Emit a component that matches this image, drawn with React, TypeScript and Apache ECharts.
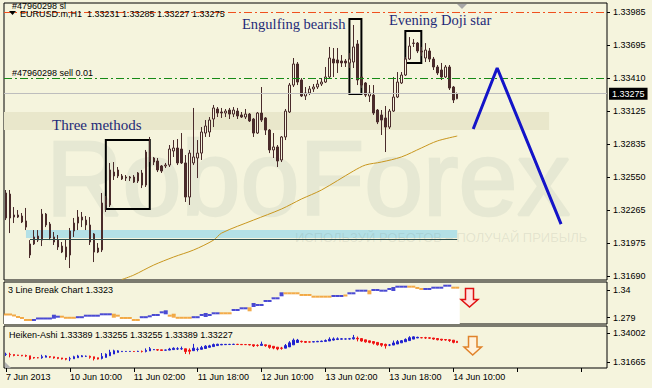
import React, { useEffect, useRef } from "react";
import * as echarts from "echarts";

// ---------- data ----------
const timeLabels = ["7 Jun 2013", "10 Jun 10:00", "11 Jun 02:00", "11 Jun 18:00", "12 Jun 10:00", "13 Jun 02:00", "13 Jun 18:00", "14 Jun 10:00"];
const LABEL_EVERY = 16;
const SLOTS = 151;

const open = [
  1.32195, 1.32403, 1.32203, 1.32203, 1.32212, 1.32169, 1.31873, 1.31969, 1.32038, 1.32003,
  1.32229, 1.32142, 1.32030, 1.32003, 1.31951, 1.31943, 1.31873, 1.32082, 1.32151, 1.32203,
  1.32177, 1.32134, 1.32056, 1.31899, 1.31917, 1.32308, 1.32308, 1.32594, 1.32612, 1.32560,
  1.32551, 1.32551, 1.32551, 1.32516, 1.32586, 1.32481, 1.32768, 1.32716, 1.32690, 1.32647,
  1.32647, 1.32655, 1.32777, 1.32803, 1.32794, 1.32673, 1.32377, 1.32673, 1.32716, 1.32759,
  1.32933, 1.32942, 1.33055, 1.33142, 1.33116, 1.33107, 1.33133, 1.33098, 1.33124, 1.33090,
  1.33072, 1.33098, 1.33055, 1.32933, 1.33107, 1.33064, 1.32959, 1.32786, 1.32812, 1.32699,
  1.32899, 1.33116, 1.33350, 1.33533, 1.33394, 1.33255, 1.33281, 1.33316, 1.33333, 1.33359,
  1.33376, 1.33420, 1.33576, 1.33568, 1.33559, 1.33559, 1.33542, 1.33550, 1.33707, 1.33420,
  1.33368, 1.33255, 1.33263, 1.33133, 1.33090, 1.33064, 1.32985, 1.33124, 1.33246, 1.33368,
  1.33437, 1.33576, 1.33715, 1.33715, 1.33646, 1.33585, 1.33646, 1.33576, 1.33507, 1.33481,
  1.33420, 1.33507, 1.33333, 1.33231,
];
const close = [
  1.32412, 1.32195, 1.32221, 1.32221, 1.32160, 1.32116, 1.31969, 1.32030, 1.32003, 1.32229,
  1.32134, 1.32021, 1.31986, 1.31943, 1.31899, 1.31856, 1.32082, 1.32151, 1.32203, 1.32177,
  1.32134, 1.31986, 1.31899, 1.31934, 1.32325, 1.32351, 1.32612, 1.32560, 1.32560, 1.32534,
  1.32542, 1.32542, 1.32507, 1.32586, 1.32481, 1.32768, 1.32699, 1.32681, 1.32612, 1.32603,
  1.32655, 1.32794, 1.32803, 1.32673, 1.32673, 1.32377, 1.32759, 1.32725, 1.32759, 1.32942,
  1.32994, 1.33046, 1.33151, 1.33107, 1.33107, 1.33124, 1.33098, 1.33133, 1.33081, 1.33072,
  1.33098, 1.33038, 1.32933, 1.33107, 1.33046, 1.32959, 1.32786, 1.32812, 1.32690, 1.32899,
  1.33124, 1.33350, 1.33533, 1.33376, 1.33255, 1.33281, 1.33316, 1.33333, 1.33359, 1.33376,
  1.33420, 1.33585, 1.33542, 1.33542, 1.33542, 1.33542, 1.33576, 1.33681, 1.33394, 1.33350,
  1.33263, 1.33281, 1.33107, 1.33029, 1.33046, 1.32985, 1.33124, 1.33246, 1.33376, 1.33437,
  1.33576, 1.33689, 1.33712, 1.33646, 1.33637, 1.33654, 1.33576, 1.33507, 1.33455, 1.33420,
  1.33507, 1.33324, 1.33220, 1.33275,
];
const low = [
  1.32177, 1.32064, 1.32151, 1.32195, 1.32151, 1.32090, 1.31847, 1.31960, 1.31986, 1.31951,
  1.32116, 1.32003, 1.31960, 1.31917, 1.31890, 1.31830, 1.31760, 1.32030, 1.32090, 1.32116,
  1.32090, 1.31960, 1.31812, 1.31890, 1.31899, 1.32247, 1.32290, 1.32525, 1.32542, 1.32525,
  1.32516, 1.32516, 1.32499, 1.32499, 1.32455, 1.32464, 1.32681, 1.32655, 1.32594, 1.32586,
  1.32629, 1.32638, 1.32725, 1.32655, 1.32664, 1.32334, 1.32308, 1.32655, 1.32542, 1.32699,
  1.32899, 1.32899, 1.32985, 1.33072, 1.33064, 1.33072, 1.33055, 1.33072, 1.33055, 1.33064,
  1.33055, 1.33029, 1.32899, 1.32925, 1.33029, 1.32916, 1.32759, 1.32716, 1.32638, 1.32681,
  1.32872, 1.33107, 1.33333, 1.33350, 1.33246, 1.33220, 1.33263, 1.33290, 1.33316, 1.33342,
  1.33368, 1.33411, 1.33420, 1.33455, 1.33507, 1.33507, 1.33498, 1.33498, 1.33350, 1.33324,
  1.33246, 1.33203, 1.33090, 1.33011, 1.32916, 1.32768, 1.32968, 1.33116, 1.33237, 1.33359,
  1.33429, 1.33568, 1.33681, 1.33628, 1.33602, 1.33550, 1.33550, 1.33481, 1.33437, 1.33394,
  1.33411, 1.33307, 1.33194, 1.33227,
];
const high = [
  1.32438, 1.32438, 1.32290, 1.32264, 1.32238, 1.32282, 1.32003, 1.32090, 1.32090, 1.32273,
  1.32238, 1.32160, 1.32073, 1.32047, 1.31986, 1.32012, 1.32108, 1.32195, 1.32264, 1.32247,
  1.32212, 1.32203, 1.32064, 1.31977, 1.32412, 1.32386, 1.32673, 1.32681, 1.32638, 1.32577,
  1.32568, 1.32560, 1.32568, 1.32594, 1.32612, 1.32786, 1.32899, 1.32725, 1.32716, 1.32655,
  1.32673, 1.32829, 1.32872, 1.32881, 1.32933, 1.32742, 1.32786, 1.33151, 1.32872, 1.32985,
  1.33046, 1.33072, 1.33177, 1.33159, 1.33151, 1.33142, 1.33151, 1.33159, 1.33151, 1.33116,
  1.33142, 1.33107, 1.33064, 1.33116, 1.33333, 1.33072, 1.32968, 1.32933, 1.32829, 1.32907,
  1.33142, 1.33368, 1.33585, 1.33550, 1.33411, 1.33333, 1.33342, 1.33359, 1.33394, 1.33411,
  1.33507, 1.33681, 1.33672, 1.33672, 1.33611, 1.33576, 1.33628, 1.33872, 1.33741, 1.33420,
  1.33376, 1.33350, 1.33350, 1.33142, 1.33133, 1.33168, 1.33142, 1.33420, 1.33463, 1.33463,
  1.33594, 1.33767, 1.33750, 1.33724, 1.33681, 1.33715, 1.33672, 1.33594, 1.33524, 1.33542,
  1.33524, 1.33524, 1.33342, 1.33285,
];

// moving average readings: [bar index, value]
const maPoints = [
  [29, 1.3166], [32, 1.31699], [37, 1.31786], [42, 1.31856], [47, 1.31917], [52, 1.32003],
  [54, 1.32064], [62, 1.32177], [69, 1.32273], [74, 1.3236], [79, 1.32438], [87, 1.32603],
  [90, 1.32655], [94, 1.32681], [99, 1.32725], [104, 1.32803], [108, 1.32864], [113, 1.32907],
];

const priceTicks = [1.33985, 1.33695, 1.3341, 1.33125, 1.32835, 1.3255, 1.32265, 1.31975, 1.3169];
const slLevel = 1.33985;
const sellLevel = 1.3341;
const bidLevel = 1.33275;
const resistanceZone = [1.33116, 1.32959, 136];
const supportZone = [1.3209, 1.32021, 5, 113];
const supportLine = [1.32012, 6, 113];

// pattern boxes: [fromBar, toBar, top, bottom]
const patternBoxes = [
  [25, 36, 1.32872, 1.32273],
  [86, 89, 1.33924, 1.33272],
  [100, 104, 1.3382, 1.33542],
];

// forecast zigzag [bar, price]
const forecast = [[117, 1.32968], [123, 1.33498], [139, 1.32142]];

// 3 Line Break: [fromBar, toBar, level, direction]
const lineBreakBricks = [
  [0, 1, 1.28605, -1], [2, 2, 1.28384, -1], [3, 3, 1.28054, -1], [4, 4, 1.27834, -1], [5, 6, 1.27393, -1],
  [7, 7, 1.27393, 1], [8, 11, 1.27724, 1], [12, 13, 1.2812, 1], [14, 14, 1.2812, -1], [15, 17, 1.27878, -1],
  [18, 19, 1.2801, 1], [20, 23, 1.2834, 1], [24, 26, 1.28649, 1], [27, 28, 1.2834, -1], [29, 31, 1.27834, -1],
  [32, 33, 1.27393, -1], [34, 35, 1.2801, 1], [36, 36, 1.28208, 1], [37, 38, 1.28494, 1], [39, 40, 1.29089, 1],
  [41, 42, 1.2834, -1], [43, 46, 1.27878, -1], [47, 48, 1.2801, 1], [49, 51, 1.28494, 1], [52, 53, 1.28869, 1],
  [54, 56, 1.28869, -1], [57, 58, 1.29596, 1], [59, 60, 1.2997, 1], [61, 61, 1.2975, -1], [62, 64, 1.30697, 1],
  [65, 66, 1.31578, 1], [67, 68, 1.32172, 1], [69, 69, 1.33053, 1], [70, 73, 1.33273, -1], [74, 76, 1.32899, -1],
  [77, 81, 1.32525, -1], [82, 84, 1.32679, 1], [85, 85, 1.32789, -1], [86, 87, 1.33273, 1], [88, 90, 1.33846, 1],
  [91, 91, 1.33493, -1], [92, 93, 1.34, 1], [94, 95, 1.33846, 1], [96, 97, 1.3422, 1], [98, 100, 1.34727, 1],
  [101, 102, 1.34727, -1], [103, 103, 1.3444, -1], [104, 104, 1.3422, -1], [105, 106, 1.3422, 1], [107, 109, 1.34507, 1],
  [110, 111, 1.34947, 1], [112, 113, 1.34507, -1],
];
const lineBreakMarks = [12, 27, 40, 42, 50, 61, 62, 69, 91, 97];
const lbTicks = [1.34, 1.279];
const haTicks = [1.34002, 1.31665];

// ---------- styles ----------
const BG = "#F5F4DD";
const UI = '"Liberation Sans", Arial, sans-serif';
const SERIF = '"Liberation Serif", "Times New Roman", serif';
const CANDLE = "#4A2B2B";
const NAVY = "#1E2A78";

function buildOption() {
  const cats = Array.from({ length: SLOTS }, (_, i) => String(i));
  const candles = open.map((o, i) => [o, close[i], low[i], high[i]]);

  // Heiken-Ashi derived from OHLC
  const ha: number[][] = [];
  let pO = 0, pC = 0;
  for (let i = 0; i < open.length; i++) {
    const c = (open[i] + high[i] + low[i] + close[i]) / 4;
    const o = i === 0 ? (open[0] + close[0]) / 2 : (pO + pC) / 2;
    ha.push([o, c, Math.min(low[i], o, c), Math.max(high[i], o, c)]);
    pO = o; pC = c;
  }

  const lbLevel: number[] = [];
  const lbDir: number[] = [];
  lineBreakBricks.forEach(([a, b, v, d]) => {
    for (let k = a; k <= b; k++) { lbLevel[k] = v; lbDir[k] = d; }
  });
  const lbMarks = lbLevel.map((v, k) => ({
    value: [k, v],
    symbolSize: lineBreakMarks.includes(k) ? [4, 4] : [4, 2],
    itemStyle: { color: lbDir[k] > 0 ? "#1E1ECC" : "#F0961E" },
  }));

  const hiddenX = (g: number) => ({
    gridIndex: g, type: "category", data: cats, boundaryGap: true,
    axisLine: { show: false }, axisTick: { show: false }, axisLabel: { show: false }, splitLine: { show: false },
  });
  const yAxisFor = (g: number, min: number, max: number, ticks: number[], fmt: (v: number) => string) => ({
    gridIndex: g, type: "value", position: "right", min, max,
    splitLine: { show: false }, axisLine: { show: false },
    axisTick: { show: true, length: 3, customValues: ticks, lineStyle: { color: "#000" } },
    axisLabel: { customValues: ticks, formatter: fmt, fontSize: 9, color: "#000", margin: 6, fontFamily: UI },
  });

  const gridBox = { show: true, borderColor: "#000", borderWidth: 1, backgroundColor: "transparent" };

  const txt = (x: number, y: number, text: string, extra: any = {}) => ({
    type: "text", x, y, z: 10, silent: true,
    style: { text, fill: "#000", fontSize: 9, fontFamily: UI, align: "left", verticalAlign: "middle", ...extra },
  });

  return {
    animation: false,
    backgroundColor: BG,
    grid: [
      { left: 4, top: 3, width: 603, height: 277, ...gridBox },
      { left: 4, top: 282, width: 603, height: 42, ...gridBox },
      { left: 4, top: 326, width: 603, height: 42, ...gridBox },
    ],
    xAxis: [
      hiddenX(0),
      hiddenX(1),
      {
        gridIndex: 2, type: "category", data: cats, boundaryGap: true,
        axisLine: { show: false }, splitLine: { show: false },
        axisTick: { show: true, interval: LABEL_EVERY - 1, length: 4, alignWithLabel: true, lineStyle: { color: "#000" } },
        axisLabel: {
          show: true, interval: LABEL_EVERY - 1, align: "left", margin: 4, fontSize: 9, color: "#000", fontFamily: UI,
          hideOverlap: false,
          formatter: (_v: string, idx: number) => (idx % LABEL_EVERY === 0 && timeLabels[idx / LABEL_EVERY]) || "",
        },
      },
    ],
    yAxis: [
      yAxisFor(0, 1.31656, 1.34063, priceTicks, (v) => v.toFixed(5)),
      yAxisFor(1, 1.26513, 1.35762, lbTicks, (v) => String(v)),
      yAxisFor(2, 1.31206, 1.3459, haTicks, (v) => v.toFixed(5)),
    ],
    graphic: [
      {
        type: "text", x: 46, y: 178, z: 0, silent: true,
        style: {
          text: "RoboForex", fill: "#E6E8D3", stroke: "#E6E8D3", lineWidth: 2.5,
          fontSize: 106, fontFamily: UI, align: "left", verticalAlign: "middle",
        },
      },
      {
        type: "text", x: 295, y: 237, z: 3, silent: true,
        style: { text: "ИСПОЛЬЗУЙ РОБОТОВ – ПОЛУЧАЙ ПРИБЫЛЬ", fill: "rgba(110,120,110,0.14)", fontSize: 13, fontFamily: UI, align: "left", verticalAlign: "middle" },
      },
      txt(12, 5.5, "#47960298 sl"),
      { type: "polygon", z: 10, silent: true, shape: { points: [[9, 11], [16, 11], [12.5, 15]] }, style: { fill: "#000" } },
      txt(20, 14, "EURUSD.m,H1  1.33231 1.33285 1.33227 1.33275"),
      txt(12, 73, "#47960298 sell 0.01"),
      txt(52, 125, "Three methods", { fill: NAVY, fontSize: 15, fontFamily: SERIF }),
      txt(242, 24, "Engulfing bearish", { fill: NAVY, fontSize: 14.5, fontFamily: SERIF }),
      txt(389, 20, "Evening Doji star", { fill: NAVY, fontSize: 14.5, fontFamily: SERIF }),
      txt(8, 290, "3 Line Break Chart 1.3323"),
      txt(9, 335, "Heiken-Ashi 1.33389 1.33255 1.33255 1.33389 1.33227"),
      { type: "polygon", z: 10, silent: true, shape: { points: [[457, 4], [467, 4], [462, 9]] }, style: { fill: "#A8A8A8" } },
      { type: "polygon", z: 10, silent: true, shape: { points: [[5, 362], [5, 368], [11, 368]] }, style: { fill: "#B0B0B0" } },
      {
        type: "polygon", z: 10, silent: true,
        shape: { points: [[465.5, 288.5], [473.5, 288.5], [473.5, 299.5], [478, 299.5], [469.5, 307], [461, 299.5], [465.5, 299.5]] },
        style: { fill: "#FFE4E0", stroke: "#E01010", lineWidth: 1.5 },
      },
      {
        type: "polygon", z: 10, silent: true,
        shape: { points: [[468.5, 336.5], [477, 336.5], [477, 347], [481.5, 347], [472.7, 355], [464, 347], [468.5, 347]] },
        style: { fill: "#FFF2DC", stroke: "#E0822A", lineWidth: 1.5 },
      },
    ],
    series: [
      {
        name: "zones", type: "line", xAxisIndex: 0, yAxisIndex: 0, data: [], z: 1, silent: true,
        markArea: {
          silent: true, label: { show: false },
          data: [
            [{ yAxis: resistanceZone[0], itemStyle: { color: "#E9E7CB" } }, { xAxis: resistanceZone[2], yAxis: resistanceZone[1] }],
            [{ xAxis: supportZone[2], yAxis: supportZone[0], itemStyle: { color: "#B3E0E6" } }, { xAxis: supportZone[3], yAxis: supportZone[1] }],
          ],
        },
        markLine: {
          silent: true, symbol: ["none", "none"], label: { show: false }, precision: 5,
          data: [
            { yAxis: slLevel, lineStyle: { color: "#F0501E", width: 1, type: [8, 3, 2, 3] } },
            { yAxis: sellLevel, lineStyle: { color: "#168A16", width: 1, type: [8, 3, 2, 3] } },
            {
              yAxis: bidLevel, lineStyle: { color: "#BDBDBD", width: 1, type: "solid" },
              label: {
                show: true, position: "end", distance: 2, formatter: bidLevel.toFixed(5),
                backgroundColor: "#000", color: "#fff", padding: [2, 3, 1, 3], fontSize: 9, fontFamily: UI,
              },
            },
            [
              { xAxis: supportLine[1], yAxis: supportLine[0], lineStyle: { color: "#2F4F4F", width: 1, type: "solid" } },
              { xAxis: supportLine[2], yAxis: supportLine[0] },
            ],
          ],
        },
      },
      {
        name: "MA", type: "line", xAxisIndex: 0, yAxisIndex: 0, data: maPoints, z: 2, smooth: 0.3,
        symbol: "none", lineStyle: { color: "#C8961E", width: 1 }, silent: true,
      },
      {
        name: "EURUSD", type: "candlestick", xAxisIndex: 0, yAxisIndex: 0, data: candles, z: 3, barWidth: 2,
        itemStyle: { color: BG, color0: CANDLE, borderColor: CANDLE, borderColor0: CANDLE, borderWidth: 1 },
        silent: true,
      },
      {
        name: "patterns", type: "line", xAxisIndex: 0, yAxisIndex: 0, data: [], z: 5, silent: true,
        markArea: {
          silent: true, label: { show: false },
          itemStyle: { color: "rgba(0,0,0,0)", borderColor: "#000", borderWidth: 2 },
          data: patternBoxes.map(([a, b, t, btm]) => [{ xAxis: a, yAxis: t }, { xAxis: b, yAxis: btm }]),
        },
      },
      {
        name: "forecast", type: "line", xAxisIndex: 0, yAxisIndex: 0, data: forecast, z: 6, silent: true,
        symbol: "none", lineStyle: { color: "#1414C8", width: 3 },
      },
      {
        name: "3LB area", type: "bar", xAxisIndex: 1, yAxisIndex: 1, data: lbLevel, barWidth: 5, silent: true,
        itemStyle: { color: "#FFFFFF" }, z: 2,
      },
      {
        name: "3LB", type: "scatter", xAxisIndex: 1, yAxisIndex: 1, data: lbMarks, symbol: "rect", silent: true, z: 3,
      },
      {
        name: "Heiken-Ashi", type: "candlestick", xAxisIndex: 2, yAxisIndex: 2, data: ha, barWidth: 2, silent: true,
        itemStyle: { color: "#2020D0", color0: "#F01212", borderColor: "#2020D0", borderColor0: "#F01212", borderWidth: 1 },
      },
    ],
  };
}

export default function App() {
  const ref = useRef<HTMLDivElement>(null);
  useEffect(() => {
    document.body.style.margin = "0";
    const chart = echarts.init(ref.current!, null, { renderer: "svg" });
    chart.setOption(buildOption() as any);
    return () => chart.dispose();
  }, []);
  return <div ref={ref} style={{ width: 652, height: 388 }} />;
}
